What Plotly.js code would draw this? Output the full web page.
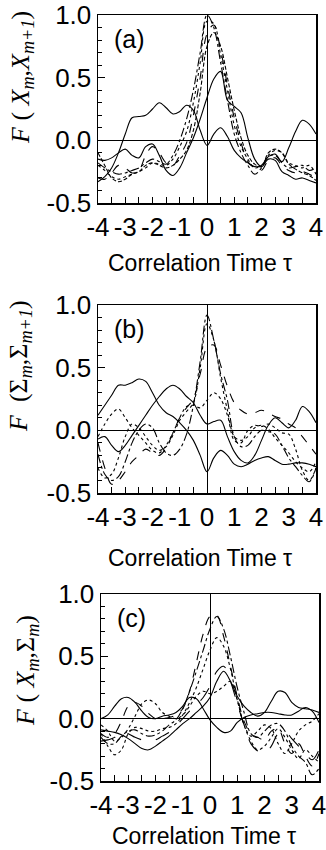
<!DOCTYPE html>
<html>
<head>
<meta charset="utf-8">
<script src="https://cdn.plot.ly/plotly-3.0.1.min.js"></script>
<style>html,body{margin:0;padding:0;background:#fff;}#chart{width:326px;height:850px;}</style>
</head>
<body>
<div id="chart"></div>
<script>
// Correlation time grid
const tau = [-4,-3.75,-3.5,-3.25,-3,-2.75,-2.5,-2.25,-2,-1.75,-1.5,-1.25,-1,-0.75,-0.5,-0.25,0,0.25,0.5,0.75,1,1.25,1.5,1.75,2,2.25,2.5,2.75,3,3.25,3.5,3.75,4];

// Panel (a): F(X_m, X_m+1)
const a1 = [-0.33,-0.29,-0.22,-0.10,0.05,0.18,0.19,0.20,0.25,0.30,0.26,0.21,0.23,0.28,0.24,0.08,-0.04,0.05,0.10,0.03,-0.08,-0.14,-0.18,-0.21,-0.20,-0.13,-0.11,-0.17,-0.06,0.07,0.16,0.13,0.05];
const a2 = [-0.15,-0.16,-0.14,-0.10,-0.07,-0.12,-0.14,-0.05,-0.03,-0.12,-0.24,-0.28,-0.22,-0.10,0.02,0.17,0.34,0.49,0.55,0.32,0.27,0.22,0.02,-0.15,-0.21,-0.15,-0.16,-0.25,-0.28,-0.31,-0.30,-0.32,-0.34];
const a3 = [-0.18,-0.22,-0.25,-0.27,-0.26,-0.24,-0.22,-0.18,-0.15,-0.17,-0.19,-0.12,0.00,0.17,0.40,0.70,1.00,0.90,0.62,0.32,0.05,-0.10,-0.20,-0.27,-0.22,-0.13,-0.12,-0.18,-0.22,-0.21,-0.20,-0.24,-0.22];
const a4 = [-0.20,-0.24,-0.29,-0.31,-0.29,-0.27,-0.25,-0.22,-0.18,-0.19,-0.20,-0.15,-0.05,0.07,0.30,0.62,0.95,0.93,0.68,0.40,0.12,-0.05,-0.15,-0.22,-0.20,-0.12,-0.08,-0.10,-0.18,-0.20,-0.22,-0.20,-0.27];
const a5 = [-0.30,-0.31,-0.26,-0.20,-0.22,-0.26,-0.24,-0.12,-0.05,-0.10,-0.18,-0.20,-0.12,-0.02,0.20,0.50,0.85,0.92,0.72,0.44,0.18,-0.02,-0.17,-0.22,-0.24,-0.16,-0.14,-0.20,-0.24,-0.26,-0.25,-0.27,-0.30];
const a6 = [-0.10,-0.20,-0.30,-0.33,-0.31,-0.27,-0.25,-0.20,-0.18,-0.20,-0.22,-0.20,-0.15,-0.08,0.08,0.38,0.75,0.86,0.75,0.50,0.24,0.02,-0.12,-0.19,-0.21,-0.10,-0.07,-0.10,-0.19,-0.23,-0.26,-0.28,-0.32];

// Panel (b): F(Sigma_m, Sigma_m+1)
const b1 = [0.12,0.20,0.28,0.36,0.36,0.38,0.41,0.39,0.30,0.20,0.14,0.11,0.06,0.00,-0.08,-0.20,-0.33,-0.22,-0.16,-0.20,-0.27,-0.29,-0.27,-0.24,-0.22,-0.21,-0.24,-0.27,-0.27,-0.26,-0.26,-0.27,-0.29];
const b2 = [-0.30,-0.38,-0.35,-0.22,-0.05,0.05,0.02,-0.05,-0.12,-0.16,-0.13,-0.04,0.08,0.15,0.22,0.50,0.85,0.72,0.42,0.16,-0.05,-0.08,-0.05,0.02,0.04,0.01,-0.06,-0.12,-0.18,-0.25,-0.30,-0.33,-0.25];
const b3 = [-0.07,-0.05,-0.12,-0.17,-0.12,-0.04,0.04,0.12,0.20,0.27,0.33,0.36,0.33,0.27,0.22,0.12,0.05,0.07,0.08,-0.05,-0.17,-0.24,-0.26,-0.20,-0.08,0.04,0.10,0.06,0.02,0.08,0.19,0.15,0.06];
const b4 = [-0.05,0.05,0.13,0.17,0.10,0.02,-0.04,-0.10,-0.16,-0.18,-0.12,-0.02,0.10,0.19,0.20,0.18,0.24,0.30,0.25,0.12,-0.08,-0.10,0.00,0.04,0.03,0.05,0.02,-0.02,-0.03,-0.15,-0.32,-0.40,-0.30];
const b5 = [-0.19,-0.35,-0.40,-0.37,-0.25,-0.10,0.00,0.05,0.02,-0.10,-0.18,-0.20,-0.15,-0.03,0.20,0.55,0.92,0.72,0.45,0.24,-0.05,-0.13,-0.12,-0.05,0.00,-0.01,-0.03,-0.12,-0.22,-0.29,-0.36,-0.41,-0.30];
const b6 = [-0.10,-0.30,-0.43,-0.40,-0.33,-0.25,-0.20,-0.15,-0.18,-0.20,-0.14,-0.02,0.10,0.18,0.25,0.45,0.66,0.68,0.52,0.35,0.22,0.16,0.13,0.14,0.16,0.14,0.11,0.09,0.05,0.02,-0.05,-0.12,-0.19];

// Panel (c): F(X_m, Sigma_m)
const c1 = [0.00,0.03,0.10,0.16,0.17,0.13,0.06,0.01,0.00,0.02,0.03,0.05,0.10,0.17,0.16,0.08,-0.01,-0.07,-0.11,-0.10,-0.03,0.01,0.03,0.04,0.05,0.05,0.04,0.03,0.03,0.06,0.09,0.06,-0.03];
const c2 = [-0.09,-0.10,-0.11,-0.13,-0.16,-0.20,-0.24,-0.25,-0.22,-0.18,-0.14,-0.09,-0.04,0.00,0.05,0.10,0.17,0.30,0.38,0.30,0.18,0.10,0.05,0.02,0.05,0.14,0.22,0.21,0.13,0.09,0.08,0.07,0.05];
const c3 = [-0.12,-0.15,-0.12,-0.02,0.10,0.13,0.10,0.04,0.00,0.00,0.01,0.03,0.08,0.22,0.45,0.68,0.82,0.83,0.66,0.42,0.18,-0.02,-0.12,-0.15,-0.17,-0.10,-0.08,-0.20,-0.28,-0.20,-0.30,-0.38,-0.28];
const c4 = [-0.15,-0.20,-0.20,-0.14,-0.10,-0.09,-0.12,-0.14,-0.13,-0.10,-0.05,-0.01,0.08,0.22,0.38,0.55,0.72,0.82,0.72,0.50,0.25,0.05,-0.12,-0.15,-0.10,-0.05,-0.04,-0.10,-0.22,-0.30,-0.35,-0.45,-0.40];
const c5 = [-0.05,-0.10,-0.18,-0.15,-0.08,0.02,0.12,0.15,0.12,0.05,0.02,0.00,0.03,0.10,0.18,0.22,0.20,0.22,0.26,0.30,0.15,-0.05,-0.14,-0.10,-0.05,-0.08,-0.20,-0.28,-0.20,-0.10,-0.05,-0.02,0.04];
const c6 = [-0.12,-0.22,-0.29,-0.25,-0.12,-0.07,-0.08,-0.10,-0.10,-0.08,-0.07,-0.04,0.03,0.13,0.25,0.40,0.55,0.65,0.58,0.40,0.15,-0.05,-0.18,-0.25,-0.22,-0.15,-0.08,-0.15,-0.25,-0.32,-0.25,-0.30,-0.35];
const c7 = [-0.18,-0.17,-0.15,-0.10,-0.12,-0.15,-0.17,-0.18,-0.17,-0.14,-0.11,-0.06,0.00,0.06,0.11,0.17,0.26,0.38,0.42,0.30,0.12,-0.05,-0.20,-0.26,-0.28,-0.22,-0.12,-0.10,-0.16,-0.22,-0.28,-0.33,-0.25];

const xTickVals = [-4,-3,-2,-1,0,1,2,3,4];
const xTickText = ["-4","-3","-2","-1","0","1","2","3","4"];
const yTickVals = [-0.5,0,0.5,1.0];
const yTickText = ["-0.5","0.0","0.5","1.0"];
const xTitleText = 'Correlation Time τ';

const panels = [
  {series:[[a1,'solid'],[a2,'solid'],[a3,'dashdot'],[a4,'dot'],[a5,'dash'],[a6,'4px,2px']], label:'(a)',
   ytitle:'<i>F</i> ( <i>X<sub>m</sub></i>,<i>X<sub>m+1</sub></i>)'},
  {series:[[b1,'solid'],[b2,'dot'],[b3,'solid'],[b4,'3px,3px'],[b5,'dashdot'],[b6,'dash']], label:'(b)',
   ytitle:'<i>F</i>  (Σ<sub><i>m</i></sub>,Σ<sub><i>m+1</i></sub>)'},
  {series:[[c1,'solid'],[c2,'solid'],[c3,'dash'],[c4,'dashdot'],[c5,'3px,3px'],[c6,'dot'],[c7,'longdash']], label:'(c)',
   ytitle:'<i>F</i> ( <i>X<sub>m</sub></i>,Σ<sub><i>m</i></sub>)'}
];

const W = 326, H = 850;
const xDom = [[98/W,316/W],[98/W,316/W],[101/W,319/W]];
const yPx = [[15,203],[305,493],[594,781]];
// title placement (px): x-title centre x / bottom y ; y-title centre x / centre y
const xTitleBottom = [[200,277],[200,572],[204,850]];
const yTitlePos = [[22,78],[20,366],[27,670]];

const SANS = 'Liberation Sans, Arial, Helvetica, sans-serif';
const SERIF = 'Liberation Serif, Times New Roman, serif';

const traces = [];
const layout = {
  width: W, height: H, margin:{l:0,r:0,t:0,b:0},
  paper_bgcolor:'#fff', plot_bgcolor:'#fff', showlegend:false,
  font:{family:SANS, color:'#000'},
  annotations:[]
};

panels.forEach((p,i)=>{
  const sfx = i===0 ? '' : String(i+1);
  p.series.forEach(([ys,dash])=>{
    traces.push({x:tau, y:ys, type:'scatter', mode:'lines', xaxis:'x'+sfx, yaxis:'y'+sfx,
      line:{color:'#000', width:1.1, dash:dash, shape:'spline', smoothing:1}, hoverinfo:'skip'});
  });
  layout['xaxis'+sfx] = {
    domain:xDom[i], anchor:'y'+sfx, range:[-4,4], fixedrange:true,
    tickvals:xTickVals, ticktext:xTickText, ticks:'inside', ticklen:6, tickwidth:1, tickcolor:'#000',
    minor:{dtick:0.5, tick0:0, ticks:'inside', ticklen:6, tickwidth:1, tickcolor:'#000'},
    showline:true, mirror:true, linecolor:'#000', linewidth:1.5,
    showgrid:false, zeroline:true, zerolinecolor:'#000', zerolinewidth:1,
    ticklabeloverflow:'allow',
    tickfont:{size:26, family:SANS, color:'#000'}
  };
  layout['yaxis'+sfx] = {
    domain:[1-yPx[i][1]/H, 1-yPx[i][0]/H], anchor:'x'+sfx, range:[-0.5,1.0], fixedrange:true,
    tickvals:yTickVals, ticktext:yTickText, ticks:'inside', ticklen:7, tickwidth:1, tickcolor:'#000',
    minor:{dtick:0.1, tick0:0, ticks:'inside', ticklen:4, tickwidth:1, tickcolor:'#000'},
    showline:true, mirror:true, linecolor:'#000', linewidth:1.5,
    showgrid:false, zeroline:true, zerolinecolor:'#000', zerolinewidth:1.2,
    ticklabeloverflow:'allow',
    tickfont:{size:26, family:SANS, color:'#000'}
  };
  // panel label
  layout.annotations.push({xref:'x'+sfx, yref:'y'+sfx, x:-3.5, y:0.81, xanchor:'left', yanchor:'middle',
    text:p.label, showarrow:false, font:{size:25, family:SANS, color:'#000'}});
  // x-axis title
  layout.annotations.push({xref:'paper', yref:'paper', x:xTitleBottom[i][0]/W, y:1-xTitleBottom[i][1]/H,
    xanchor:'center', yanchor:'bottom', borderpad:0, text:xTitleText, showarrow:false,
    font:{size:23, family:SANS, color:'#000'}});
  // y-axis title
  layout.annotations.push({xref:'paper', yref:'paper', x:yTitlePos[i][0]/W, y:1-yTitlePos[i][1]/H,
    xanchor:'center', yanchor:'middle', textangle:-90, text:p.ytitle, showarrow:false,
    font:{size:26, family:SERIF, color:'#000'}});
});

Plotly.newPlot('chart', traces, layout, {staticPlot:true, displayModeBar:false});
</script>
</body>
</html>
